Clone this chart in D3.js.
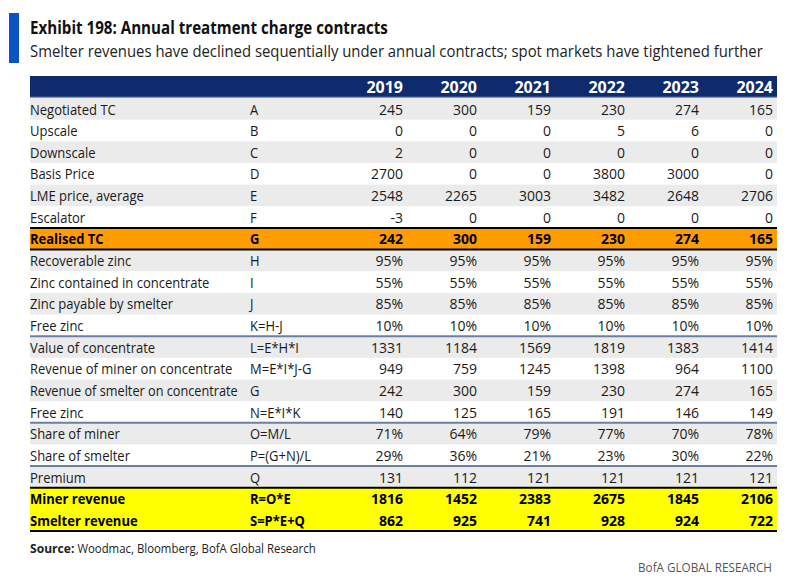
<!DOCTYPE html>
<html><head><meta charset="utf-8">
<script src="https://cdn.jsdelivr.net/npm/d3@7"></script>
<style>body{margin:0;background:#fff}svg{display:block}text{font-family:"Open Sans",sans-serif}</style>
</head><body><svg id="c" width="786" height="581"></svg>
<script>
const years = ["2019","2020","2021","2022","2023","2024"];
const labels = ["Negotiated TC","Upscale","Downscale","Basis Price","LME price, average","Escalator","Realised TC","Recoverable zinc","Zinc contained in concentrate","Zinc payable by smelter","Free zinc","Value of concentrate","Revenue of miner on concentrate","Revenue of smelter on concentrate","Free zinc","Share of miner","Share of smelter","Premium","Miner revenue","Smelter revenue"];
const codes = ["A","B","C","D","E","F","G","H","I","J","K=H-J","L=E*H*I","M=E*I*J-G","G","N=E*I*K","O=M/L","P=(G+N)/L","Q","R=O*E","S=P*E+Q"];
const v2019 = [245,0,2,2700,2548,-3,242,"95%","55%","85%","10%",1331,949,242,140,"71%","29%",131,1816,862];
const v2020 = [300,0,0,0,2265,0,300,"95%","55%","85%","10%",1184,759,300,125,"64%","36%",112,1452,925];
const v2021 = [159,0,0,0,3003,0,159,"95%","55%","85%","10%",1569,1245,159,165,"79%","21%",121,2383,741];
const v2022 = [230,5,0,3800,3482,0,230,"95%","55%","85%","10%",1819,1398,230,191,"77%","23%",121,2675,928];
const v2023 = [274,6,0,3000,2648,0,274,"95%","55%","85%","10%",1383,964,274,146,"70%","30%",121,1845,924];
const v2024 = [165,0,0,0,2706,0,165,"95%","55%","85%","10%",1414,1100,165,149,"78%","22%",121,2106,722];
const series = [v2019,v2020,v2021,v2022,v2023,v2024];
const rowKind = ["g","w","g","w","g","w","orange","g","w","g","w","g","w","g","w","g","w","g","yellow","yellow"];
const boldRows = [6,18,19];
const blueLinesAfter = [10,14,16];
const blackLinesBefore = [6,7,18];

const svg = d3.select("#c");
const L = 30, R = 777;
const TXT = "#1a1a1a";

// fit a text horizontally by scaling its group
function fitText(parent, x0, y0, size, weight, fill, str, targetW, anchor, factor) {
  const g = parent.append("g");
  const t = g.append("text").attr("font-size",size).attr("font-weight",weight).attr("fill",fill).text(str);
  const w = t.node().getComputedTextLength();
  let s = targetW ? targetW / w : factor;
  if (anchor === "end") t.attr("text-anchor","end");
  g.attr("transform",`translate(${x0},${y0}) scale(${s},1)`);
  return {t, w: w*s};
}

// title block
svg.append("rect").attr("x",9).attr("y",13).attr("width",10).attr("height",50).attr("fill","#0A52C8");
fitText(svg,30,34,18,700,"#111","Exhibit 198: Annual treatment charge contracts",358);
fitText(svg,30,57,17,400,"#222","Smelter revenues have declined sequentially under annual contracts; spot markets have tightened further",733);

// scales
const y = d3.scaleBand().domain(d3.range(labels.length)).range([98,531]).paddingInner(0).paddingOuter(0);
const x = d3.scalePoint().domain(years).range([403,773]);

// header
svg.append("rect").attr("x",L).attr("y",76).attr("width",R-L).attr("height",21).attr("fill","#0E2B6E");
svg.append("line").attr("x1",L).attr("x2",R).attr("y1",97.5).attr("y2",97.5).attr("stroke","#8797B5").attr("stroke-width",1.5);
svg.selectAll("text.yr").data(years).join("text").attr("class","yr")
  .attr("x",d=>x(d)).attr("y",92.5).attr("text-anchor","end").attr("font-size",16).attr("font-weight",700).attr("fill","#fff").text(d=>d);

// row backgrounds
const fillOf = k => k==="g" ? "#EBEBEB" : k==="w" ? "#FFFFFF" : k==="orange" ? "#FF9D00" : "#FFFF00";
svg.selectAll("rect.row").data(labels).join("rect").attr("class","row")
  .attr("x",L).attr("width",R-L).attr("y",(d,i)=>y(i)).attr("height",y.bandwidth()+0.5).attr("fill",(d,i)=>fillOf(rowKind[i]));

// separators
blueLinesAfter.forEach(i=>{
  const yy = y(i)+y.bandwidth();
  svg.append("line").attr("x1",L).attr("x2",R).attr("y1",yy).attr("y2",yy).attr("stroke","#6B7FA3").attr("stroke-width",2);
});
blackLinesBefore.forEach(i=>{
  const yy = y(i);
  svg.append("line").attr("x1",L).attr("x2",R).attr("y1",yy).attr("y2",yy).attr("stroke","#000").attr("stroke-width",2);
});
{
  const yy = y(19)+y.bandwidth();
  svg.append("line").attr("x1",L).attr("x2",R).attr("y1",yy).attr("y2",yy).attr("stroke","#000").attr("stroke-width",2);
}

// labels
const base = i => y(i)+16.5;
const g = svg.append("g");
labels.forEach((lab,i)=>{
  const b = boldRows.includes(i);
  const col = b?"#000":TXT, wt = b?700:400;
  // measure
  const probe = g.append("text").attr("font-size",14).attr("font-weight",wt).text(lab);
  const w = probe.node().getComputedTextLength();
  probe.remove();
  const maxW = 208;
  if (w*0.93 > maxW) fitText(g,30,base(i),14,wt,col,lab,maxW);
  else fitText(g,30,base(i),14,wt,col,lab,null,null,0.93);
  fitText(g,250,base(i),14,wt,col,codes[i],null,null,0.93);
});

// values
years.forEach((yr,j)=>{
  g.selectAll("text.v"+yr).data(series[j]).join("text").attr("class","v"+yr)
    .attr("x",x(yr)).attr("y",(d,i)=>base(i)).attr("text-anchor","end").attr("font-size",14)
    .attr("font-weight",(d,i)=>boldRows.includes(i)?700:400).attr("fill",(d,i)=>boldRows.includes(i)?"#000":TXT)
    .text(d=>d);
});

// source
const s1 = fitText(svg,30,553,13,700,"#222","Source:",null,null,0.93);
const s2x = 30 + s1.w + 3;
const probe2 = svg.append("text").attr("font-size",13).text("Woodmac, Bloomberg, BofA Global Research");
probe2.remove();
fitText(svg,s2x,553,13,400,"#222","Woodmac, Bloomberg, BofA Global Research",316-s2x);
fitText(svg,772,572,13,400,"#555","BofA GLOBAL RESEARCH",134,"end");
</script></body></html>
